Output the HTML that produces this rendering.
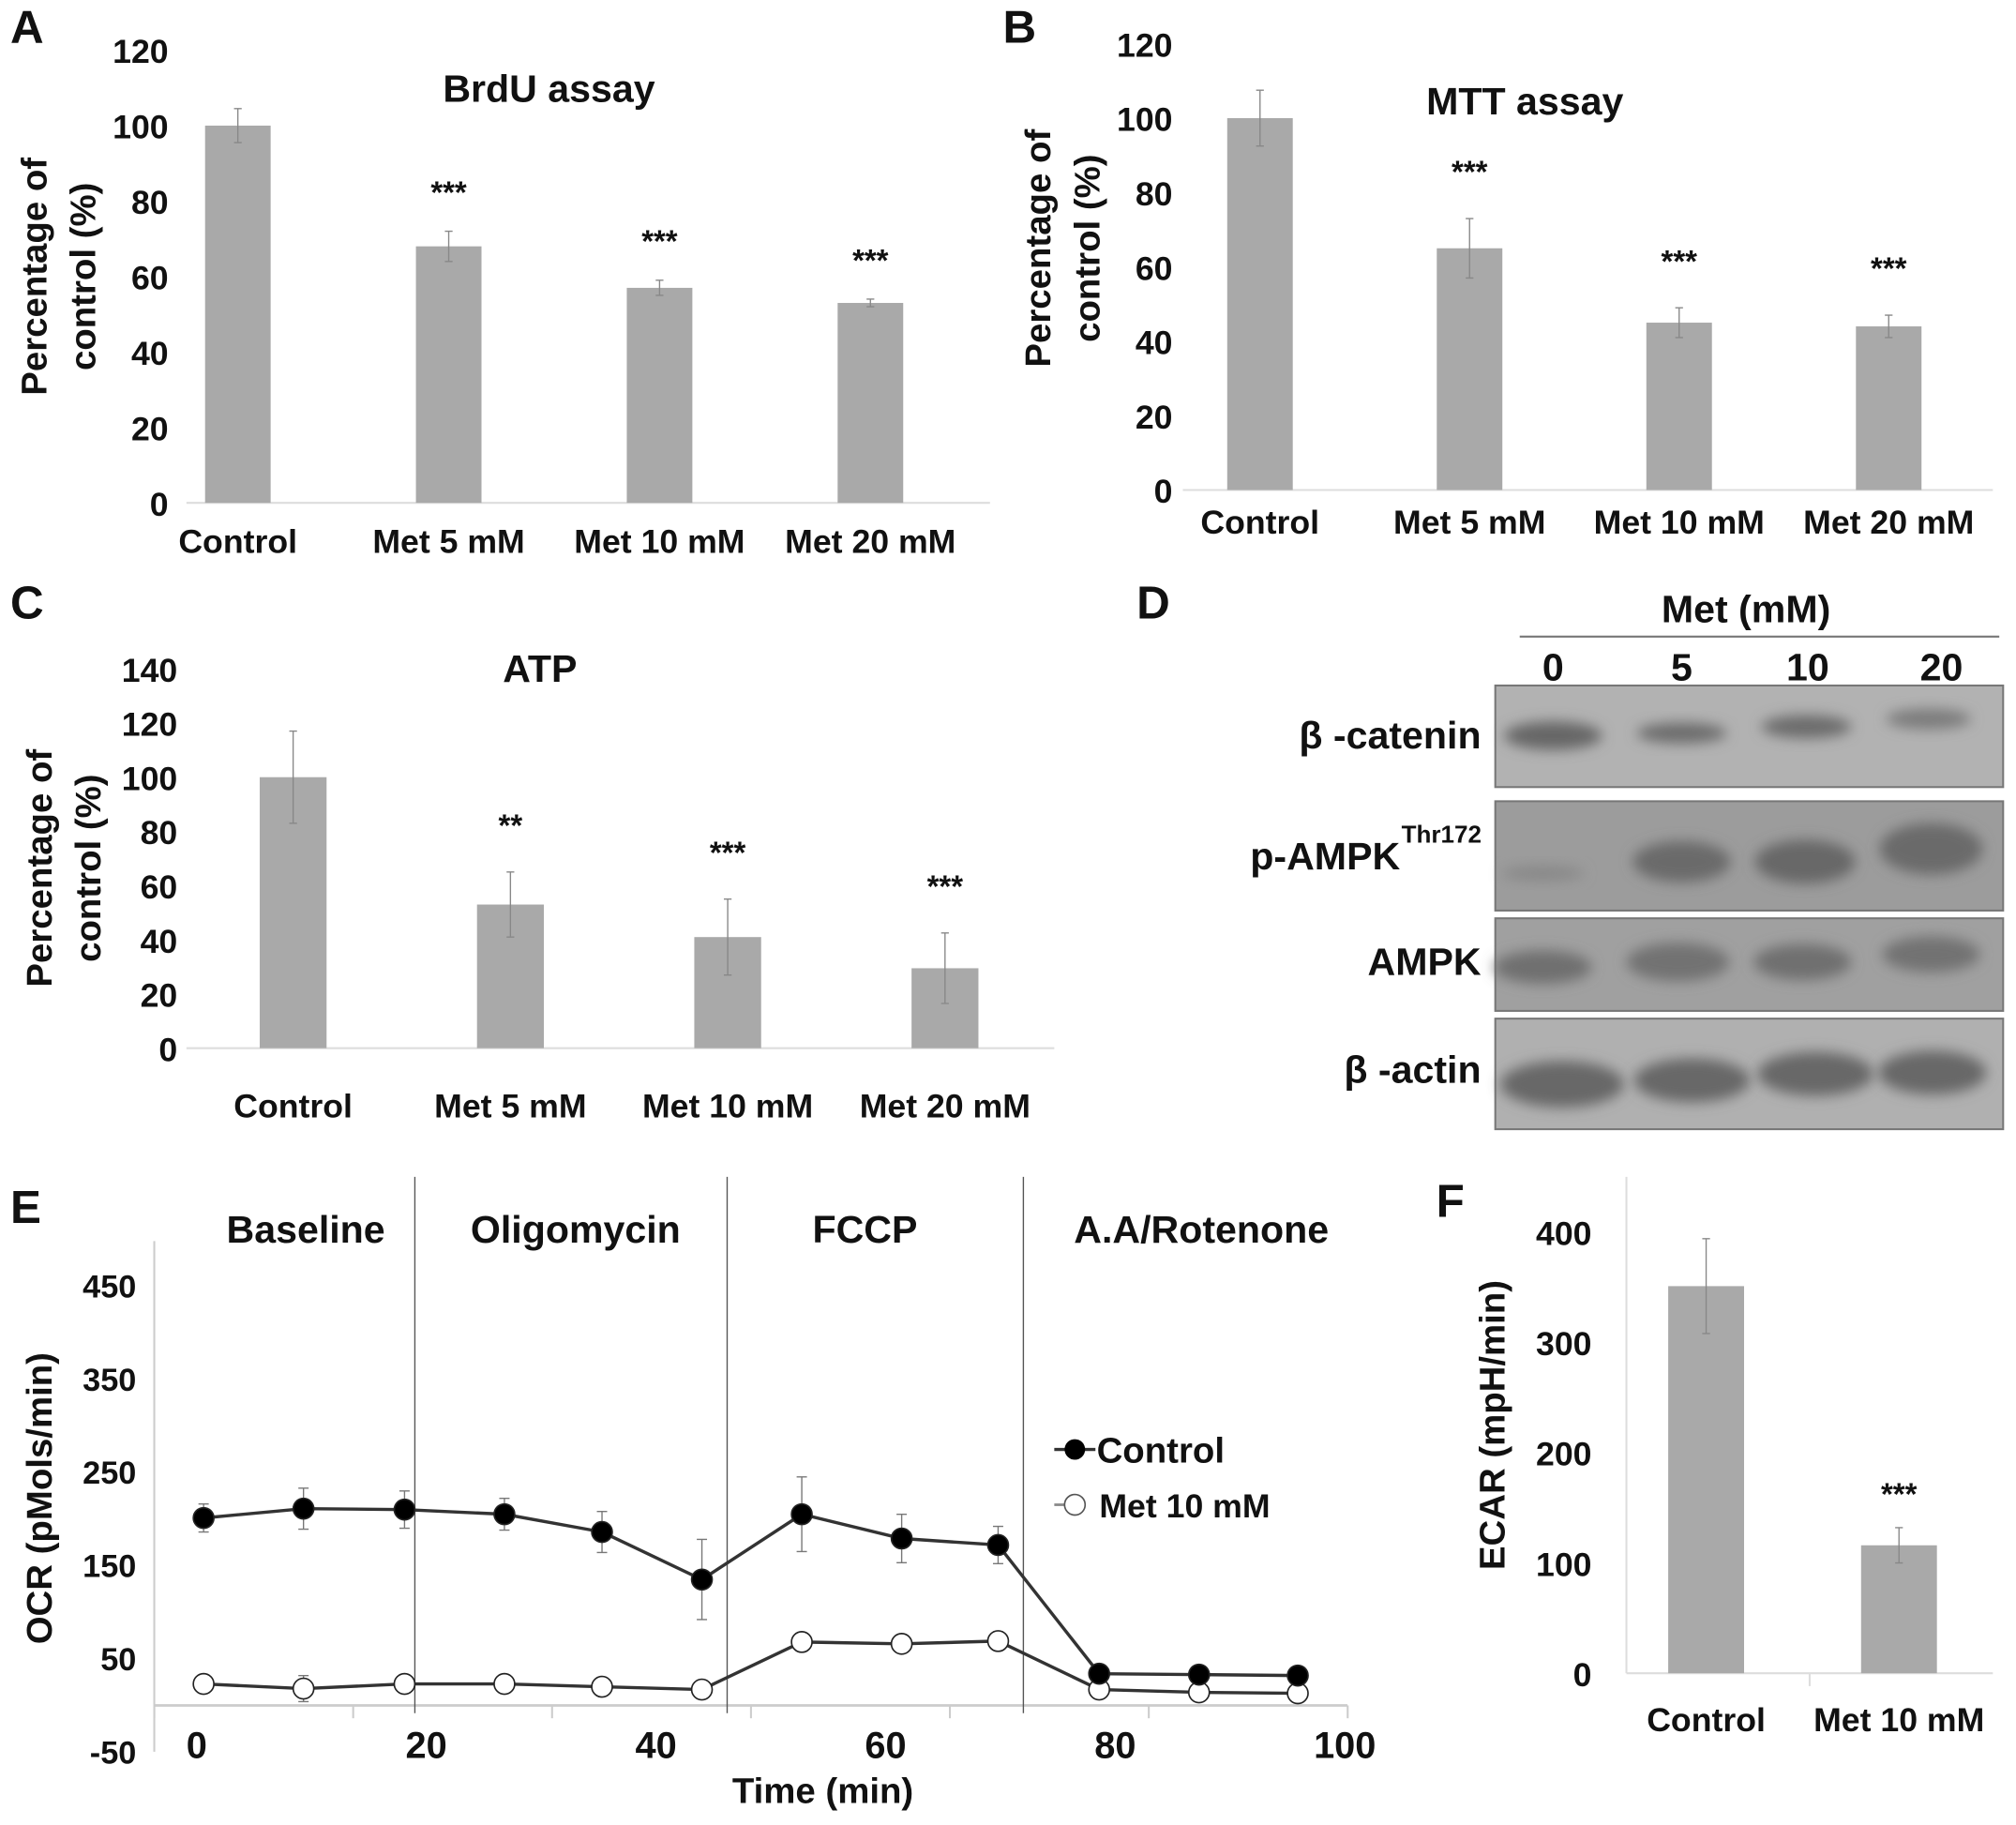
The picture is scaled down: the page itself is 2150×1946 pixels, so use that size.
<!DOCTYPE html>
<html><head><meta charset="utf-8">
<style>
html,body{margin:0;padding:0;background:#fff;}
svg{display:block;}
text{font-family:"Liberation Sans",Arial,sans-serif;fill:#111;font-weight:bold;}
</style></head>
<body>
<svg id="fig" width="2150" height="1946" viewBox="0 0 1568 1419" preserveAspectRatio="none" xmlns="http://www.w3.org/2000/svg">
<defs><filter id="blur" x="-30%" y="-60%" width="160%" height="220%"><feGaussianBlur stdDeviation="5"/></filter></defs>
<g id="root"></g>
</svg>
<script>
// ---- data ----
const barCats = ["Control","Met 5 mM","Met 10 mM","Met 20 mM"];
const brduVals = [100,68,57,53];
const brduErr = [4.5,4,2,1];
const brduSig = ["","***","***","***"];
const mttVals = [100,65,45,44];
const mttErr = [7.5,8,4,3];
const mttSig = ["","***","***","***"];
const atpVals = [100,53,41,29.5];
const atpErr = [17,12,14,13];
const atpSig = ["","**","***","***"];
const pctTicks = [0,20,40,60,80,100,120];
const atpTicks = [0,20,40,60,80,100,120,140];
const ocrTimes = [0.6,9.3,18.1,26.8,35.3,44.0,52.7,61.4,69.8,78.6,87.3,95.9];
const ocrControl = [201,211,210,205,186,135,205,179,172,34,33,32];
const ocrControlErr = [15,22,20,17,22,43,40,26,20,3,2,2];
const ocrMet = [23,18,23,23,20,17,68,66,69,17,14,13];
const ocrMetErr = [3,14,3,3,3,3,9,5,10,3,3,3];
const ocrYTicks = [-50,50,150,250,350,450];
const ocrXTicks = [0,20,40,60,80,100];
const phaseLines = [19.0,46.2,72.0];
const phaseNames = ["Baseline","Oligomycin","FCCP","A.A/Rotenone"];
const phaseCenters = [9.5,33.0,58.2,87.5];
const ecarCats = ["Control","Met 10 mM"];
const ecarVals = [351,116];
const ecarErr = [43,16];
const ecarSig = ["","***"];
const ecarTicks = [0,100,200,300,400];
const lanes = ["0","5","10","20"];
const blotNames = ["β -catenin","p-AMPK","AMPK","β -actin"];

const NS="http://www.w3.org/2000/svg";
const root=document.getElementById('root');
function el(tag,attrs,parent,txt){const e=document.createElementNS(NS,tag);for(const k in attrs)e.setAttribute(k,attrs[k]);if(txt!==undefined)e.textContent=txt;(parent||root).appendChild(e);return e;}

function letter(ch,x,y){
  const t=el('text',{x:x,y:y,'font-size':36,'font-weight':'bold'},root,ch);
  
  
}

function barChart(o){
  const g=el('g',{});
  
  
  const y=v=>o.y0-(v-0)*(o.y0-o.yTop)/(o.ticks[o.ticks.length-1]);
  const xc=i=>o.x0+i*o.step;
  const ax=el('line',{x1:o.axL,y1:o.y0,x2:o.axR,y2:o.y0,stroke:'#ddd','stroke-width':1.5},g);
  
  
  if(o.yAxisLine){const l=el('line',{x1:o.axL,y1:o.y0,x2:o.axL,y2:o.yAxisTop,stroke:'#ddd','stroke-width':1.5},g);
    
    
    const tk=el('line',{x1:(o.axL+o.axR)/2,y1:o.y0,x2:(o.axL+o.axR)/2,y2:o.y0+10,stroke:'#ddd','stroke-width':1.5},g);
    
    }
  o.ticks.forEach(t=>{const e=el('text',{x:o.tickX,y:y(t)+10,'font-size':o.fs,'text-anchor':'end'},g,String(t));
    
    });
  o.vals.forEach((v,i)=>{
    const r=el('rect',{x:xc(i)-o.bw/2,y:y(v),width:o.bw,height:o.y0-y(v),fill:'#a9a9a9'},g);
    
    
    const e=o.err[i];
    const eb=el('path',{d:`M${xc(i)} ${y(v+e)}V${y(v-e)}M${xc(i)-3} ${y(v+e)}H${xc(i)+3}M${xc(i)-3} ${y(v-e)}H${xc(i)+3}`,stroke:'#888','stroke-width':1,fill:'none'},g);
    
    
    if(o.sig[i]){const s=el('text',{x:xc(i),y:y(v+e)-o.sigGap,'font-size':24,'text-anchor':'middle',fill:'#333','font-weight':'normal'},g,o.sig[i]);
      
      }
    const c=el('text',{x:xc(i),y:o.catY,'font-size':o.fs,'text-anchor':'middle'},g,o.cats[i]);
    
    
  });
  if(o.title){const t=el('text',{x:o.titleX,y:o.titleY,'font-size':30,'text-anchor':'middle'},g,o.title);
    
    }
  o.ytitle.forEach((s,k)=>{const t=el('text',{x:0,y:0,'font-size':o.ytfs||28,'text-anchor':'middle',transform:`translate(${o.ytX[k]},${o.ytY}) rotate(-90)`},g,s);
    
    });
}

letter('A',8,33);
barChart({name:'brdu-chart',cats:barCats,vals:brduVals,err:brduErr,sig:brduSig,ticks:pctTicks,y0:391,yTop:39,x0:185,step:164,bw:51,axL:145,axR:770,tickX:131,fs:26,catY:430,sigGap:22,title:'BrdU assay',titleX:427,titleY:79,ytitle:['Percentage of','control (%)'],ytX:[36,74],ytY:215});
letter('B',780,33);
barChart({name:'mtt-chart',cats:barCats,vals:mttVals,err:mttErr,sig:mttSig,ticks:pctTicks,y0:381,yTop:34,x0:980,step:163,bw:51,axL:920,axR:1550,tickX:912,fs:26,catY:415,sigGap:28,title:'MTT assay',titleX:1186,titleY:89,ytitle:['Percentage of','control (%)'],ytX:[817,855],ytY:193});
letter('C',8,481);
barChart({name:'atp-chart',cats:barCats,vals:atpVals,err:atpErr,sig:atpSig,ticks:atpTicks,y0:815,yTop:520,x0:228,step:169,bw:52,axL:145,axR:820,tickX:138,fs:26,catY:869,sigGap:28,title:'ATP',titleX:420,titleY:530,ytitle:['Percentage of','control (%)'],ytX:[40,78],ytY:675});

// ---- D western blot ----
letter('D',884,481);
(function(){
  const g=el('g',{});
  
  
  const t=el('text',{x:1358,y:484,'font-size':30,'text-anchor':'middle'},g,'Met (mM)');
  
  
  const l=el('line',{x1:1182,y1:495,x2:1555,y2:495,stroke:'#777','stroke-width':1.5},g);
  
  
  const laneX=[1208,1308,1406,1510];
  lanes.forEach((s,i)=>{const e=el('text',{x:laneX[i],y:529,'font-size':30,'text-anchor':'middle'},g,s);
    
    });
  const boxes=[[533,612,'#b2b2b2'],[623,708,'#9c9c9c'],[714,786,'#a0a0a0'],[792,878,'#b0b0b0']];
  const bands=[
    [[1208,572,38,11,'#666'],[1308,570,35,8,'#6c6c6c'],[1405,565,35,9,'#6c6c6c'],[1500,559,33,8,'#7c7c7c']],
    [[1200,679,32,6,'#888'],[1308,670,38,16,'#6a6a6a'],[1404,670,39,17,'#686868'],[1502,660,40,20,'#6a6a6a']],
    [[1200,752,38,13,'#707070'],[1305,748,40,15,'#727272'],[1402,748,38,14,'#707070'],[1502,742,38,14,'#727272']],
    [[1215,843,48,18,'#686868'],[1316,840,45,17,'#686868'],[1412,835,45,17,'#686868'],[1503,834,42,17,'#686868']]
  ];
  const labY=[582,676,758,842];
  boxes.forEach((b,k)=>{
    const r=el('rect',{x:1163,y:b[0],width:395,height:b[1]-b[0],fill:b[2],stroke:'#777','stroke-width':1.5},g);
    
    
    bands[k].forEach(bd=>{const e=el('ellipse',{cx:bd[0],cy:bd[1],rx:bd[2],ry:bd[3],fill:bd[4],filter:'url(#blur)'},g);
      
      });
    const lt=el('text',{x:1152,y:labY[k],'font-size':30,'text-anchor':'end'},g,blotNames[k]);
    
    
    if(k===1){lt.setAttribute('x',1089);
      const sup=el('text',{x:1090,y:655,'font-size':19,'font-weight':'normal'},g,'Thr172');
      
      }
  });
})();

// ---- E OCR ----
letter('E',8,951);
(function(){
  const g=el('g',{});
  
  
  const xs=t=>153+8.93*t;
  const ys=v=>1326-0.725*v;
  const ya=el('line',{x1:120,y1:965,x2:120,y2:1362,stroke:'#ccc','stroke-width':1.5},g);
  
  
  const xa=el('line',{x1:120,y1:ys(0),x2:1048,y2:ys(0),stroke:'#ccc','stroke-width':2},g);
  
  
  for(let k=0;k<=6;k++){const tx=120+k*154.7;const tk=el('line',{x1:tx,y1:ys(0),x2:tx,y2:ys(0)+10,stroke:'#ccc','stroke-width':1.5},g);
    
    }
  ocrYTicks.forEach(t=>{const e=el('text',{x:106,y:ys(t)+9,'font-size':25,'text-anchor':'end'},g,String(t));
    
    });
  ocrXTicks.forEach(t=>{const e=el('text',{x:xs(t),y:1367,'font-size':29,'text-anchor':'middle'},g,String(t));
    
    });
  phaseLines.forEach(t=>{const e=el('line',{x1:xs(t),y1:915,x2:xs(t),y2:1332,stroke:'#555','stroke-width':1},g);
    
    });
  phaseNames.forEach((s,i)=>{const e=el('text',{x:xs(phaseCenters[i]),y:966,'font-size':30,'text-anchor':'middle'},g,s);
    
    });
  function series(vals,errs,fill,name){
    const sg=el('g',{},g);
    
    
    vals.forEach((v,i)=>{const x=xs(ocrTimes[i]);const e=errs[i];
      const eb=el('path',{d:`M${x} ${ys(v+e)}V${ys(v-e)}M${x-4} ${ys(v+e)}H${x+4}M${x-4} ${ys(v-e)}H${x+4}`,stroke:'#777','stroke-width':1,fill:'none'},sg);
      
      });
    const d=vals.map((v,i)=>(i?'L':'M')+xs(ocrTimes[i])+' '+ys(v)).join('');
    const ln=el('path',{d:d,stroke:'#333','stroke-width':2.5,fill:'none'},sg);
    
    
    vals.forEach((v,i)=>{const c=el('circle',{cx:xs(ocrTimes[i]),cy:ys(v),r:8,fill:fill,stroke:'#222','stroke-width':1.2},sg);
      
      });
  }
  series(ocrMet,ocrMetErr,'#fff','series-met-10mm');
  series(ocrControl,ocrControlErr,'#000','series-control');
  const lg=el('g',{},g);
  
  
  const l1=el('line',{x1:820,y1:1127,x2:852,y2:1127,stroke:'#333','stroke-width':2.5},lg);
  
  
  const c1=el('circle',{cx:836,cy:1127,r:8,fill:'#000'},lg);
  
  
  const t1=el('text',{x:853,y:1137,'font-size':28},lg,'Control');
  
  
  const l2=el('line',{x1:820,y1:1170,x2:830,y2:1170,stroke:'#888','stroke-width':2},lg);
  
  
  const c2=el('circle',{cx:836,cy:1170,r:8,fill:'#fff',stroke:'#555','stroke-width':1.2},lg);
  
  
  const t2=el('text',{x:855,y:1180,'font-size':26},lg,'Met 10 mM');
  
  
  const xt=el('text',{x:640,y:1402,'font-size':28,'text-anchor':'middle'},g,'Time (min)');
  
  
  const yt=el('text',{x:0,y:0,'font-size':28,'text-anchor':'middle',transform:'translate(40,1165) rotate(-90)'},g,'OCR (pMols/min)');
  
  
})();

// ---- F ECAR ----
letter('F',1117,946);
barChart({name:'ecar-chart',cats:ecarCats,vals:ecarVals,err:ecarErr,sig:ecarSig,ticks:ecarTicks,y0:1301,yTop:958,x0:1327,step:150,bw:59,axL:1265,axR:1550,yAxisLine:true,yAxisTop:915,tickX:1238,fs:26,catY:1346,sigGap:18,title:null,ytitle:['ECAR (mpH/min)'],ytX:[1170],ytY:1108});
</script>
</body></html>
